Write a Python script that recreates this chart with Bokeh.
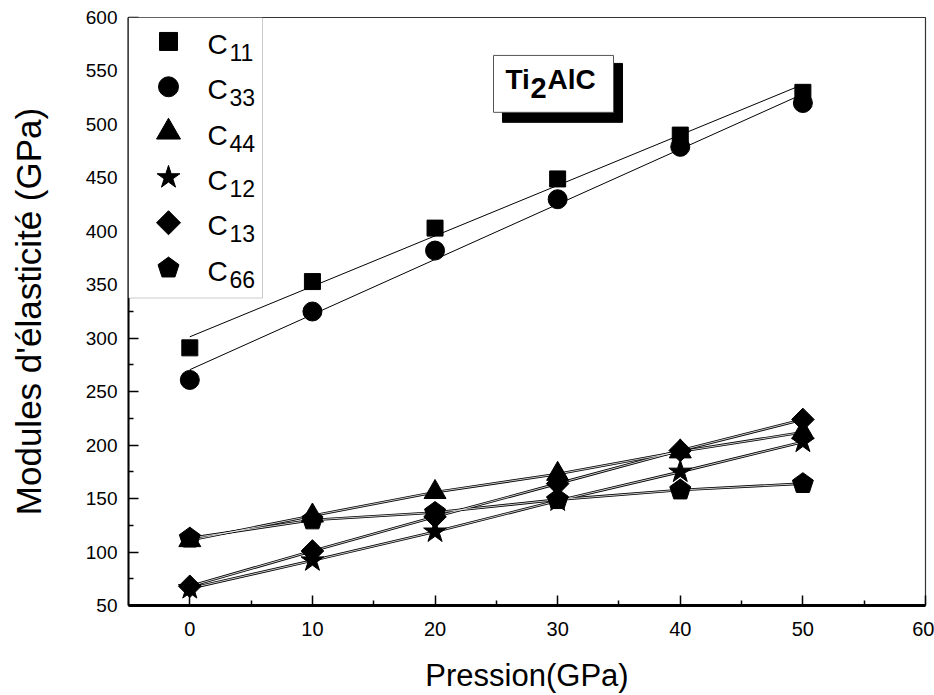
import numpy as np
from bokeh.plotting import figure
from bokeh.models import Range1d, FixedTicker, BoxAnnotation
from bokeh.core.properties import value
from bokeh.embed import file_html
from bokeh.resources import INLINE

# Pressure (GPa) and elastic constants (GPa) of Ti2AlC
pressure = [0, 10, 20, 30, 40, 50]
c11 = [291, 353, 403, 449, 490, 530]
c33 = [261, 325, 382, 430, 479, 520]
c44 = [111, 134, 156, 173, 194, 212]
c12 = [66, 92, 119, 148, 175, 203]
c13 = [68, 101, 133, 164, 195, 224]
c66 = [113, 130, 137, 149, 158, 164]

x_ticks = [0, 10, 20, 30, 40, 50, 60]
y_ticks = list(range(50, 601, 50))

legend_names = ["11", "33", "44", "12", "13", "66"]

# page geometry of the plot frame
W, H = 934, 695
FL, FR, FT, FB = 128, 925, 17, 606
X0, X1, Y0, Y1 = -5, 60, 50, 600
SX = (X1 - X0) / (FR - FL)   # data units per pixel
SY = (Y1 - Y0) / (FB - FT)


def dx(px):
    return X0 + (px - FL) * SX


def dy(py):
    return Y1 - (py - FT) * SY


ARIAL = "Liberation Sans"

p = figure(width=W, height=H, x_range=Range1d(X0, X1), y_range=Range1d(Y0, Y1),
           output_backend="svg", toolbar_location=None,
           min_border_left=FL, min_border_right=W - FR,
           min_border_top=FT, min_border_bottom=H - FB)
p.grid.visible = False
p.background_fill_color = "white"
p.border_fill_color = "white"
p.outline_line_color = "#333333"
p.outline_line_width = 1.2

# axes
xa = p.xaxis[0]
xa.ticker = FixedTicker(ticks=x_ticks, minor_ticks=[t + 5 for t in x_ticks[:-1]])
xa.axis_label = "Pression(GPa)"
xa.axis_line_width = 3
xa.major_tick_in = 10
xa.major_tick_out = 0
xa.minor_tick_in = 5
xa.minor_tick_out = 0
xa.major_tick_line_width = 1.5
xa.minor_tick_line_width = 1.5
xa.major_label_text_font = ARIAL
xa.major_label_text_font_size = "20px"
xa.major_label_standoff = 16
xa.axis_label_text_font = ARIAL
xa.axis_label_text_font_style = "normal"
xa.axis_label_text_font_size = "31px"
xa.axis_label_standoff = 19
xa.major_label_text_color = "black"
xa.axis_label_text_color = "black"

ya = p.yaxis[0]
ya.ticker = FixedTicker(ticks=y_ticks, minor_ticks=[t + 25 for t in y_ticks[:-1]])
ya.axis_label = "Modules d'élasticité (GPa)"
ya.axis_line_width = 2
ya.major_tick_in = 10
ya.major_tick_out = 0
ya.minor_tick_in = 5
ya.minor_tick_out = 0
ya.major_tick_line_width = 1.5
ya.minor_tick_line_width = 1.5
ya.major_label_text_font = ARIAL
ya.major_label_text_font_size = "19px"
ya.major_label_standoff = 11
ya.axis_label_text_font = ARIAL
ya.axis_label_text_font_style = "normal"
ya.axis_label_text_font_size = "35px"
ya.axis_label_standoff = 35
ya.major_label_text_color = "black"
ya.axis_label_text_color = "black"

# linear fits for C11 and C33
xs = np.array(pressure, dtype=float)
for series in (c11, c33):
    k, b = np.polyfit(xs, np.array(series, dtype=float), 1)
    p.line([xs[0], xs[-1]], [b + k * xs[0], b + k * xs[-1]], line_color="black", line_width=1)

# point-to-point lines for the other constants (outlined stroke)
low_series = [c44, c66, c13, c12]
for series in low_series:
    p.line(pressure, series, line_color="black", line_width=2.6)
for series in low_series:
    p.line(pressure, series, line_color="white", line_width=0.8)


def pentagon_patches(xv, yv, r_px):
    ang = np.deg2rad(90 + 72 * np.arange(5))
    px = [list(x + r_px * np.cos(ang) * SX) for x in xv]
    py = [list(y + r_px * np.sin(ang) * SY) for y in yv]
    return px, py


# markers
p.scatter(pressure, c11, marker="square", size=16, fill_color="black", line_color="black")
p.scatter(pressure, c33, marker="circle", size=19, fill_color="black", line_color="black")
p.scatter(pressure, c44, marker="triangle", size=22, fill_color="black", line_color="black")
p.scatter(pressure, c12, marker="star", size=24, fill_color="black", line_color="black")
p.scatter(pressure, c13, marker="square", angle=np.pi / 4, size=16, fill_color="black", line_color="black")
pxs, pys = pentagon_patches(pressure, c66, 11)
p.patches(pxs, pys, fill_color="black", line_color="black")

# legend box (drawn above the axis line, below the legend entries)
box = BoxAnnotation(left=X0, right=dx(262), top=Y1, bottom=dy(298),
                    fill_color="white", fill_alpha=1.0, line_color="#555555", line_width=1,
                    level="annotation")
p.add_layout(box)

rows_px = [41 + 45.4 * i for i in range(6)]
mx = dx(168)
marker_specs = [("square", 18, 0.0), ("circle", 20, 0.0), ("triangle", 24, 0.0),
                ("star", 24, 0.0), ("square", 17, np.pi / 4)]
for (mk, sz, an), ry in zip(marker_specs, rows_px):
    r = p.scatter([mx], [dy(ry)], marker=mk, size=sz, angle=an, fill_color="black", line_color="black")
    r.level = "overlay"
lpx, lpy = pentagon_patches([mx], [dy(rows_px[5])], 11)
r = p.patches(lpx, lpy, fill_color="black", line_color="black")
r.level = "overlay"

r = p.text([dx(207)] * 6, [dy(ry + 3) for ry in rows_px], text=["C"] * 6,
           text_font=value(ARIAL), text_font_size=value("28px"),
           text_baseline="alphabetic", text_align="left", text_color="black")
r.level = "overlay"
r = p.text([dx(229)] * 6, [dy(ry + 11) for ry in rows_px], text=legend_names,
           text_font=value(ARIAL), text_font_size=value("23px"),
           text_baseline="alphabetic", text_align="left", text_color="black")
r.level = "overlay"

# compound label box with drop shadow
p.quad(left=dx(502), right=dx(622), top=dy(63), bottom=dy(122), fill_color="black", line_color="black")
p.quad(left=dx(493), right=dx(613), top=dy(55), bottom=dy(112), fill_color="white", line_color="#555555", line_width=1)
p.text([dx(505)], [dy(79)], text=["Ti"], text_font=value(ARIAL), text_font_style="bold",
       text_font_size=value("28px"), text_baseline="alphabetic", text_color="black")
p.text([dx(530)], [dy(88)], text=["2"], text_font=value(ARIAL), text_font_style="bold",
       text_font_size=value("29px"), text_baseline="alphabetic", text_color="black")
p.text([dx(547)], [dy(79)], text=["AlC"], text_font=value(ARIAL), text_font_style="bold",
       text_font_size=value("28px"), text_baseline="alphabetic", text_color="black")

open("out.html", "w").write(file_html(p, INLINE))
